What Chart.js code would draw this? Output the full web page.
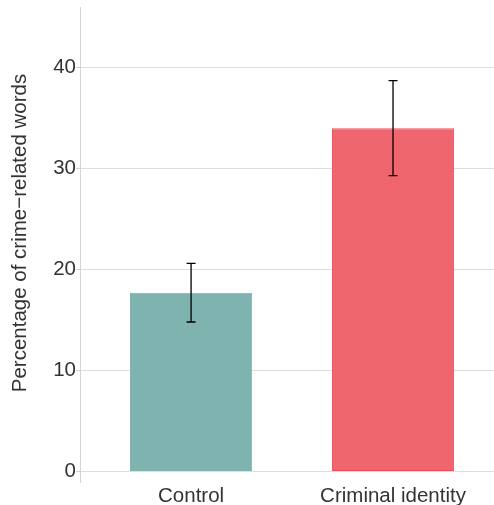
<!DOCTYPE html>
<html>
<head>
<meta charset="utf-8">
<script src="https://cdn.jsdelivr.net/npm/chart.js@4"></script>
<style>
  html, body { margin: 0; padding: 0; background: #fff; }
  #wrap { width: 494px; height: 505px; }
</style>
</head>
<body>
<div id="wrap"><canvas id="myChart"></canvas></div>
<script>
var categories = ["Control", "Criminal identity"];
var means = [17.7, 34.0];
var errLow = [14.8, 29.3];
var errHigh = [20.6, 38.7];
var yTicks = [0, 10, 20, 30, 40];
var yTitle = "Percentage of crime\u2212related words";

var fontFamily = "'Liberation Sans', Arial, Helvetica, sans-serif";

// error bars drawn on top of the bars
var errorBars = {
    id: 'errorBars',
    afterDatasetsDraw: function(chart) {
        var ctx = chart.ctx;
        var xs = chart.scales.x, ys = chart.scales.y;
        ctx.save();
        ctx.strokeStyle = "#000";
        ctx.lineWidth = 1.3;
        for (var i = 0; i < means.length; i++) {
            var x = xs.getPixelForValue(i + 1);
            var y1 = ys.getPixelForValue(errLow[i]);
            var y2 = ys.getPixelForValue(errHigh[i]);
            ctx.beginPath();
            ctx.moveTo(x, y1); ctx.lineTo(x, y2);
            ctx.moveTo(x - 4.5, y1); ctx.lineTo(x + 4.5, y1);
            ctx.moveTo(x - 4.5, y2); ctx.lineTo(x + 4.5, y2);
            ctx.stroke();
        }
        ctx.restore();
    }
};

// y axis title, placed like the original
var sideTitle = {
    id: 'sideTitle',
    afterDraw: function(chart) {
        var ctx = chart.ctx;
        ctx.save();
        ctx.translate(20.5, 233);
        ctx.rotate(-Math.PI / 2);
        ctx.fillStyle = "#333";
        ctx.font = "20.5px " + fontFamily;
        ctx.textAlign = "center";
        ctx.textBaseline = "middle";
        ctx.fillText(yTitle, 0, 0);
        ctx.restore();
    }
};

function noPad(s) {
    s.paddingTop = 0; s.paddingBottom = 0;
    s.paddingLeft = 0; s.paddingRight = 0;
}

var data = {
    datasets: [{
        data: means.map(function(v, i) { return { x: i + 1, y: v }; }),
        backgroundColor: ["#7fb3b0", "#f0666f"],
        borderColor: ["#7fb3b0", "#e84f5c"],
        borderWidth: 1,
        borderSkipped: false,
        barPercentage: 0.605,
        categoryPercentage: 1
    }]
};

var ctx = document.getElementById("myChart");

var myChart = new Chart(ctx, {
    type: 'bar',
    data: data,
    plugins: [errorBars, sideTitle],
    options: {
        responsive: true,
        maintainAspectRatio: false,
        animation: false,
        layout: { padding: { top: 7, left: 0, right: 0, bottom: 0 } },
        plugins: {
            legend: { display: false },
            tooltip: { enabled: false }
        },
        scales: {
            x: {
                type: 'linear',
                offset: false,
                min: 0.45,
                max: 2.5,
                afterBuildTicks: function(s) {
                    s.ticks = categories.map(function(c, i) { return { value: i + 1 }; });
                },
                afterFit: function(s) { s.height = 23; noPad(s); },
                grid: { display: false, drawTicks: false, offset: false },
                border: { display: false },
                ticks: {
                    padding: 2,
                    color: "#333",
                    font: { family: fontFamily, size: 20.5 },
                    callback: function(v) { return categories[v - 1]; }
                }
            },
            y: {
                min: -1.05,
                max: 46,
                afterBuildTicks: function(s) {
                    s.ticks = yTicks.map(function(v) { return { value: v }; });
                },
                afterFit: function(s) { s.width = 80; noPad(s); },
                grid: { color: "#dedede", lineWidth: 1, tickLength: 4, tickColor: "#cfcfcf" },
                border: { display: true, color: "#d4d4d4", width: 1 },
                ticks: {
                    padding: 0,
                    color: "#333",
                    font: { family: fontFamily, size: 20.5 }
                }
            }
        }
    }
});
</script>
</body>
</html>
